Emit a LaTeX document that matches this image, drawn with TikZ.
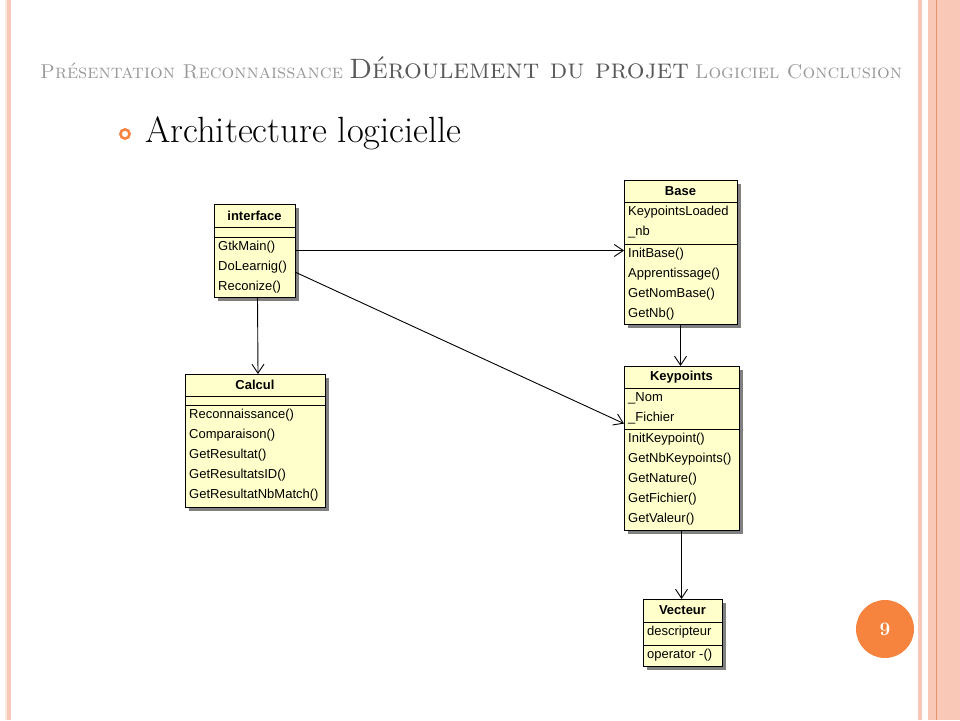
\documentclass[tikz,border=0pt]{standalone}
\usepackage{fontspec}
\usetikzlibrary{calc,arrows.meta}
\newfontfamily\umlfont{Liberation Sans}
\definecolor{peach}{RGB}{250,200,182}
\definecolor{peachdark}{RGB}{226,150,112}
\definecolor{slideorange}{RGB}{246,132,62}
\definecolor{umlyellow}{RGB}{255,255,204}
\tikzset{
	umlbox/.style={draw, fill=umlyellow, anchor=north west, inner sep=0pt, outer sep=0pt, line width=1},
	umltitle/.style={font=\umlfont\bfseries\fontsize{13}{15}\selectfont},
	umlmember/.style={anchor=west, inner sep=0pt, text height=9, text depth=3, font=\umlfont\fontsize{13}{15}\selectfont},
	umlarrow/.style={-{Straight Barb[length=9pt,width=12pt]}, line width=0.9},
}
\newcommand{\umlclass}[8]{
	\fill[black!50] (#2+4,#3+4) rectangle ++(#4,#5);
	\node[umlbox, minimum width=#4, minimum height=#5] (#1) at (#2,#3) {};
	\draw[line width=1] (#2,#3+#6) -- ++(#4,0);
	\draw[line width=1] (#2,#3+#7) -- ++(#4,0);
	\node[umltitle] at (#2+#4/2,#3+#6/2) {#8};
}
\newcommand{\umlmembers}[3]{
	\foreach \member [count=\i from 0] in {#3}
		\node[umlmember] at (#1+4,#2+10+20*\i) {\member};
}

\begin{document}
\begin{tikzpicture}[x=1pt,y=-1pt]
	\useasboundingbox (0,0) rectangle (960,720);
	\fill[white] (0,0) rectangle (960,720);

	\fill[peach] (5,0) rectangle (11,720);
	\fill[peach!40] (5,0) rectangle (7,720);
	\fill[peach] (918,0) rectangle (922,720);
	\fill[peach] (928,0) rectangle (960,720);
	\draw[peachdark, line width=1] (936,0) -- (936,720);

	\node[anchor=base west, inner sep=0pt] (header) at (40,78)
		{\fontsize{20}{24}\selectfont\textcolor{black!40}{\textsc{Présentation Reconnaissance}}
		\textcolor{black!65}{\fontsize{28}{32}\selectfont\textsc{Déroulement du projet}}
		\textcolor{black!40}{\textsc{Logiciel Conclusion}}};

	\draw[slideorange, line width=2.6] (125,134) circle (4.6);
	\node[anchor=base west, inner sep=0pt] (title) at (145,142)
		{\fontsize{36.5}{40}\selectfont Architecture logicielle};

	\umlclass{interface}{214}{204}{81}{93}{23}{33}{interface}
	\umlmembers{214}{237}{GtkMain(),DoLearnig(),Reconize()}

	\umlclass{Base}{624}{180}{113}{144}{22}{64}{Base}
	\umlmembers{624}{202}{KeypointsLoaded,\_nb}
	\umlmembers{624}{244}{InitBase(),Apprentissage(),GetNomBase(),GetNb()}

	\umlclass{Keypoints}{624}{366}{115}{164}{22}{63}{Keypoints}
	\umlmembers{624}{388}{\_Nom,\_Fichier}
	\umlmembers{624}{429}{InitKeypoint(),GetNbKeypoints(),GetNature(),GetFichier(),GetValeur()}

	\umlclass{Calcul}{185}{374}{140}{133}{22}{31}{Calcul}
	\umlmembers{185}{405}{Reconnaissance(),Comparaison(),GetResultat(),GetResultatsID(),GetResultatNbMatch()}

	\umlclass{Vecteur}{643}{599}{79}{67}{23}{46}{Vecteur}
	\umlmembers{643}{622}{descripteur}
	\umlmembers{643}{645}{operator -()}

	\draw[umlarrow] (interface.east) -- (interface.east -| Base.west);
	\draw[umlarrow] (interface.-28) -- (Keypoints.157);
	\draw[umlarrow] ($(interface.south)+(3,0)$) -- ($(Calcul.north)+(3,0)$);
	\draw[umlarrow] (Base.south) -- (Base.south |- Keypoints.north);
	\draw[umlarrow] (Keypoints.south) -- (Keypoints.south |- Vecteur.north);

	\fill[slideorange] (885,629) circle (29) node (page) {\color{white}\fontsize{19}{22}\selectfont\bfseries 9};
\end{tikzpicture}
\end{document}
